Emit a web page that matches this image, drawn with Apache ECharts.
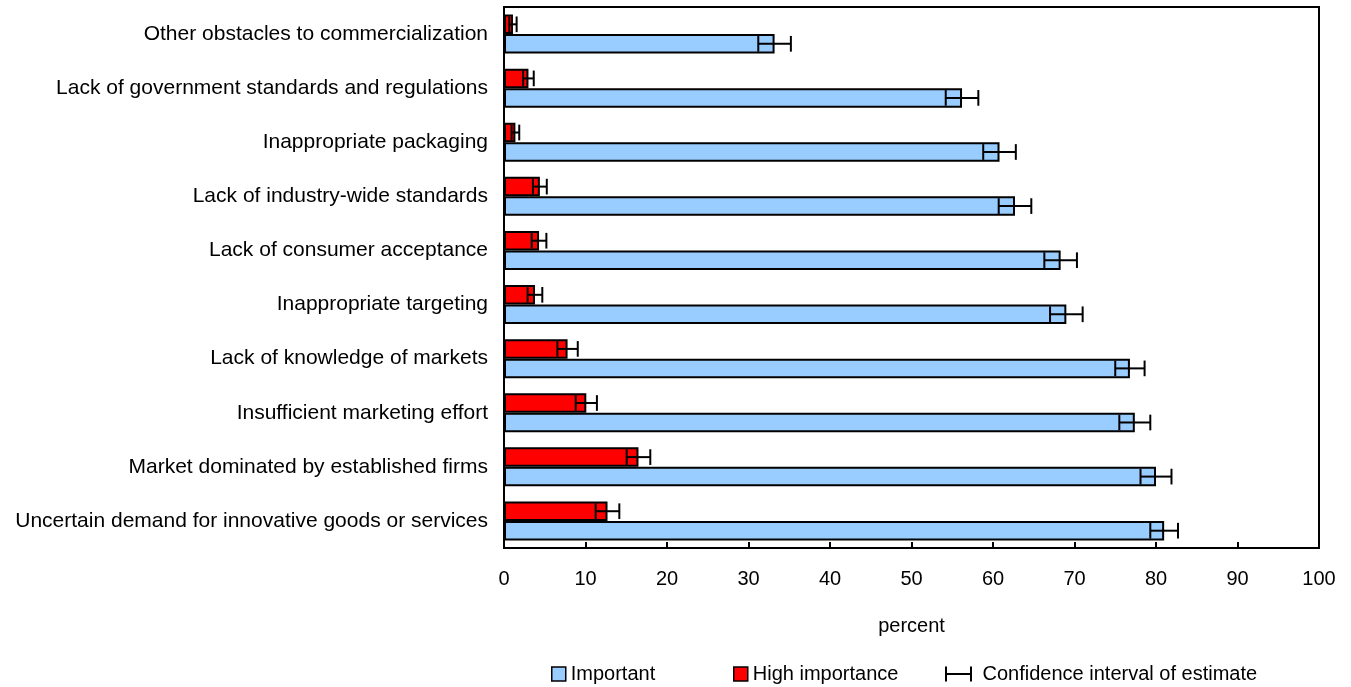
<!DOCTYPE html>
<html>
<head>
<meta charset="utf-8">
<script src="https://cdn.jsdelivr.net/npm/echarts@6/dist/echarts.min.js"></script>
<style>
  html, body { margin: 0; padding: 0; background: #fff; }
  #main { width: 1351px; height: 687px; }
</style>
</head>
<body>
<div id="main"></div>
<script>
var myChart = echarts.init(document.getElementById("main"));

// categories, top to bottom
const categories = [
  "Other obstacles to commercialization",
  "Lack of government standards and regulations",
  "Inappropriate packaging",
  "Lack of industry-wide standards",
  "Lack of consumer acceptance",
  "Inappropriate targeting",
  "Lack of knowledge of markets",
  "Insufficient marketing effort",
  "Market dominated by established firms",
  "Uncertain demand for innovative goods or services",
];
const important = [33.2, 56.2, 60.8, 62.7, 68.3, 69.0, 76.8, 77.4, 80.0, 81.0];
const importantCi = [2.0, 2.0, 2.0, 2.0, 2.0, 2.0, 1.8, 1.9, 1.9, 1.7];
const highImportance = [1.1, 3.0, 1.4, 4.4, 4.3, 3.8, 7.8, 10.1, 16.5, 12.7];
const highImportanceCi = [0.45, 0.65, 0.47, 0.85, 0.9, 0.9, 1.25, 1.3, 1.45, 1.45];
const xTicks = [0, 10, 20, 30, 40, 50, 60, 70, 80, 90, 100];

const FONT = "Liberation Sans, Arial, sans-serif";

function errData(vals, ci) {
  return vals.map((v, i) => [i, v - ci[i], v + ci[i]]);
}

// sign: -1 = upper bar of the pair, +1 = lower bar
function errRenderer(sign) {
  return function (params, api) {
    var cat = api.value(0);
    var lo = api.coord([api.value(1), cat]);
    var hi = api.coord([api.value(2), cat]);
    var band = api.size([0, 1])[1];
    var y = lo[1] + sign * band * 0.18;
    var h = band * 0.145;
    var style = { stroke: "#000", lineWidth: 2 };
    return {
      type: "group",
      children: [
        { type: "line", shape: { x1: lo[0], y1: y, x2: hi[0], y2: y }, style: style },
        { type: "line", shape: { x1: lo[0], y1: y - h, x2: lo[0], y2: y + h }, style: style },
        { type: "line", shape: { x1: hi[0], y1: y - h, x2: hi[0], y2: y + h }, style: style },
      ],
    };
  };
}

const ciIcon = "path://M0,0h2v15h-2z M0,6.5h27v2h-27z M25,0h2v15h-2z";

option = {
  animation: false,
  grid: {
    left: 504,
    right: 32,
    top: 7,
    bottom: 139,
    show: true,
    borderColor: "#000",
    borderWidth: 2,
  },
  legend: [
    {
      left: 551,
      top: 664,
      padding: 0,
      itemWidth: 14,
      itemHeight: 14,
      textStyle: { fontFamily: FONT, fontSize: 20, color: "#000" },
      data: [{ name: "Important", icon: "rect", itemStyle: { borderColor: "#000", borderWidth: 1.5 } }],
    },
    {
      left: 733,
      top: 664,
      padding: 0,
      itemWidth: 14,
      itemHeight: 14,
      textStyle: { fontFamily: FONT, fontSize: 20, color: "#000" },
      data: [{ name: "High importance", icon: "rect", itemStyle: { borderColor: "#000", borderWidth: 1.5 } }],
    },
    {
      left: 945,
      top: 664,
      padding: 0,
      itemWidth: 27,
      itemHeight: 15,
      textStyle: { fontFamily: FONT, fontSize: 20, color: "#000" },
      formatter: function (name) { return " " + name; },
      data: [{ name: "Confidence interval of estimate", icon: ciIcon, itemStyle: { color: "#000" } }],
    },
  ],
  xAxis: {
    type: "value",
    min: 0,
    max: 100,
    interval: 10,
    name: "percent",
    nameLocation: "middle",
    nameGap: 68,
    nameTextStyle: { fontFamily: FONT, fontSize: 20, color: "#000" },
    axisLine: { show: true, lineStyle: { color: "#000", width: 2 } },
    axisTick: { show: true, inside: true, length: 6, lineStyle: { color: "#000", width: 2 } },
    axisLabel: {
      margin: 21,
      fontFamily: FONT,
      fontSize: 20,
      color: "#000",
      formatter: function (v) { return xTicks.indexOf(v) >= 0 ? String(v) : ""; },
    },
    splitLine: { show: false },
  },
  yAxis: {
    type: "category",
    inverse: true,
    data: categories,
    axisLine: { show: true, lineStyle: { color: "#000", width: 2 } },
    axisTick: { show: false },
    axisLabel: { margin: 16, fontFamily: FONT, fontSize: 21, color: "#000" },
    splitLine: { show: false },
  },
  series: [
    {
      name: "High importance",
      type: "bar",
      data: highImportance,
      barGap: 0,
      barCategoryGap: "28%",
      itemStyle: { color: "#ff0000", borderColor: "#000", borderWidth: 2 },
    },
    {
      name: "Important",
      type: "bar",
      data: important,
      barGap: 0,
      barCategoryGap: "28%",
      itemStyle: { color: "#99ccff", borderColor: "#000", borderWidth: 2 },
    },
    {
      name: "Confidence interval of estimate",
      type: "custom",
      renderItem: errRenderer(-1),
      encode: { x: [1, 2], y: 0 },
      data: errData(highImportance, highImportanceCi),
      itemStyle: { color: "#000" },
      z: 10,
    },
    {
      name: "Confidence interval of estimate",
      type: "custom",
      renderItem: errRenderer(1),
      encode: { x: [1, 2], y: 0 },
      data: errData(important, importantCi),
      itemStyle: { color: "#000" },
      z: 10,
    },
  ],
};
myChart.setOption(option);
</script>
</body>
</html>
